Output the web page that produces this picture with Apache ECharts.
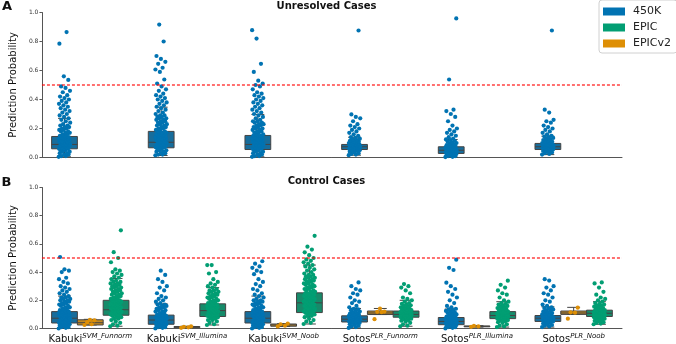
<!DOCTYPE html>
<html>
<head>
<meta charset="utf-8">
<script src="https://cdn.jsdelivr.net/npm/echarts@6/dist/echarts.min.js"></script>
<style>
  html, body { margin: 0; padding: 0; background: #fff; }
  #chart { width: 676px; height: 344px; }
</style>
</head>
<body>
<div id="chart"></div>
<script>
// categories (label + superscript)
const catBase = ['Kabuki', 'Kabuki', 'Kabuki', 'Sotos', 'Sotos', 'Sotos'];
const catSup = ['SVM_Funnorm', 'SVM_Illumina', 'SVM_Noob', 'PLR_Funnorm', 'PLR_Illumina', 'PLR_Noob'];
const yTicks = ['0.0', '0.2', '0.4', '0.6', '0.8', '1.0'];
const threshold = 50; // all values are in percent

// box stats per category: [min, q1, median, q3, max]
const unresolved450kBox = [
  [0.5, 6, 9, 14.5, 27],
  [1.4, 6.7, 10.5, 18, 34.7],
  [0.5, 5.5, 9, 15.2, 29.7],
  [1.6, 5.5, 7.4, 9, 14],
  [0.3, 2.8, 5, 7.4, 12.4],
  [2, 5.5, 7.4, 9.7, 14.7],
];
const control450kBox = [
  [0, 3.9, 7.3, 12, 23],
  [0, 3, 6, 9.5, 17.5],
  [0, 3.9, 7.3, 12, 23],
  [0.4, 4.6, 6.6, 9, 14.2],
  [0, 2.7, 5, 7.8, 13.8],
  [1, 5, 7.3, 9.2, 15.4],
];
const controlEpicv2Box = [
  [2.5, 2.5, 4.1, 6.2, 6.5],
  [0.5, 0.6, 1, 1.4, 1.6],
  [1.4, 1.6, 2.5, 3.2, 3.5],
  [9.9, 9.9, 11, 12.4, 14.2],
  [1, 1.2, 1.5, 1.8, 2],
  [10, 10, 11, 12.4, 15],
];
const controlEpicBox = [
  [1.6, 9.4, 13.3, 20, 35.5],
  [2.5, 8.5, 12.7, 17.5, 29],
  [3.2, 11.3, 18.2, 25.3, 45],
  [1.6, 8, 10, 12.4, 20],
  [1, 7, 9.2, 12, 19],
  [3, 8.5, 10.8, 13, 19],
];

// individual samples (percent)
const unresolved450kPts = [
  [0.5,1,1,2,2,3,3,4,4,5,5,6,6,6,7,7,7,8,8,8,9,9,9,10,10,10,11,11,11,12,12,12,13,13,13,14,14,14,15,15,16,16,17,17,18,18,19,19,20,20,21,21,22,22,23,24,25,26,27,28,29,30,31,32,33,34,35,36,37,38,39,40,41,42,43,45,46,48,49,53.5,56,78.5,86.5],
  [1.5,2,2,3,3,4,4,5,5,6,6,7,7,7,8,8,8,9,9,9,10,10,10,11,11,11,12,12,12,13,13,13,14,14,14,15,15,15,16,16,16,17,17,17,18,18,19,19,20,20,21,21,22,22,23,23,24,24,25,25,26,26,27,27,28,28,29,29,30,31,32,33,34,35,36,37,38,39,40,41,42,43,44,46,47,49,51,53.8,59,60.7,61.9,64.6,66,68,70,80,91.7],
  [0.5,1,1,2,2,3,3,4,4,5,5,6,6,6,7,7,7,8,8,8,9,9,9,10,10,10,11,11,11,12,12,12,13,13,13,14,14,14,15,15,15,16,16,17,17,18,18,19,19,20,20,21,21,22,22,23,23,24,24,25,25,26,27,28,29,30,31,32,33,34,35,36,37,38,39,40,41,42,43,44,45,47,49,50,51,53,59,64.6,82,87.8],
  [1.6,2,2.5,3,3.5,4,4.5,5,5,5.5,5.5,6,6,6,6.5,6.5,6.5,7,7,7,7.5,7.5,7.5,8,8,8,8.5,8.5,8.5,9,9,9,9.5,9.5,10,10,10.5,11,11,11.5,12,12.5,13,13.5,14,15,16,17,18,19,20,21,22,23,25,27,28,29.7,87.6],
  [0.3,0.5,1,1,1.5,1.5,2,2,2.5,2.5,3,3,3,3.5,3.5,3.5,4,4,4,4.5,4.5,4.5,5,5,5,5.5,5.5,5.5,6,6,6,6.5,6.5,7,7,7.5,7.5,8,8,8.5,9,9.5,10,10.5,11,11.5,12,12.5,13,14,15,16,17,18,19,20,22,25,28,30,32,33,53.8,95.9],
  [2,2.5,3,3.5,4,4.5,5,5,5.5,5.5,6,6,6,6.5,6.5,6.5,7,7,7,7.5,7.5,7.5,8,8,8,8.5,8.5,8.5,9,9,9,9.5,9.5,10,10,10.5,11,11,11.5,12,12.5,13,13.5,14,14.5,15,16,17,18,19,20,21,22,24,25,26,31,33,87.6],
];
const control450kPts = [
  [0,0.5,1,1,1.5,2,2,2.5,3,3,3.5,4,4,4,5,5,5,6,6,6,7,7,7,8,8,8,9,9,9,10,10,10,11,11,11,12,12,12,13,13,14,14,15,15,16,16,17,17,18,18,19,19,20,20,21,21,22,22,23,24,25,26,27,28,29,30,32,33,35,36,40,41,42,50.7],
  [0,0.5,1,1,1.5,2,2,2.5,3,3,3.5,3.5,4,4,4,5,5,5,6,6,6,7,7,7,8,8,8,9,9,9,10,10,11,11,12,12,13,13,14,14,15,15,16,16,17,17,18,19,20,21,22,23,25,27,29,30,33,35,38,41],
  [0,0.5,1,1,1.5,2,2,2.5,3,3,3.5,4,4,4,5,5,5,6,6,6,7,7,7,8,8,8,9,9,9,10,10,10,11,11,11,12,12,12,13,13,14,14,15,15,16,16,17,17,18,18,19,19,20,20,21,22,23,24,25,27,28,30,31.5,33,35,38.5,40,41,43,44,46,47.7],
  [0.4,1,1.5,2,2.5,3,3.5,4,4,4.5,4.5,5,5,5,5.5,5.5,5.5,6,6,6,6.5,6.5,6.5,7,7,7,7.5,7.5,7.5,8,8,8,8.5,8.5,9,9,9.5,10,10,10.5,11,11.5,12,12.5,13,13.5,14,15,16,18,19,20,22,24,25,27,28,30,32.7],
  [0,0.5,1,1,1.5,1.5,2,2,2.5,2.5,3,3,3,3.5,3.5,3.5,4,4,4,4.5,4.5,4.5,5,5,5,5.5,5.5,5.5,6,6,6,6.5,6.5,7,7,7.5,7.5,8,8,8.5,9,9.5,10,10.5,11,11.5,12,12.5,13,13.5,14,15,16,18,20,22,24,26,28,30,32.5,41.5,43,48.8],
  [1,1.5,2,2.5,3,3.5,4,4.5,5,5,5.5,5.5,6,6,6,6.5,6.5,6.5,7,7,7,7.5,7.5,7.5,8,8,8,8.5,8.5,8.5,9,9,9.5,9.5,10,10,10.5,11,11.5,12,12.5,13,13.5,14,14.5,15,16,17,19,20,22,24,25,27,29,30,34,35],
];
const controlEpicv2Pts = [
  [2.5, 3, 4.5, 5.8, 6.2],
  [0.5, 0.8, 1.2, 1.5],
  [1.5, 2, 3, 3.5],
  [6.6, 11.6, 11.8, 12, 14.2],
  [1.2, 1.5, 1.8],
  [7, 11.2, 11.5, 14.8],
];
const controlEpicPts = [
  [1.6,2,3,4,5,6,7,7,8,8,9,9,9.5,10,10,10,11,11,11,12,12,12,13,13,13,14,14,14,15,15,15,16,16,16,17,17,17,18,18,18,19,19,19,20,20,20,21,21,22,22,23,23,24,24,25,25,26,26,27,27,28,28,29,29,30,30,31,31,32,32,33,33,34,35,36,37,38,39,40,41,42,47,50,54.1,69.6],
  [2.5,3,4,5,6,6,7,7,8,8,8.5,9,9,9,10,10,10,11,11,11,12,12,12,13,13,13,14,14,14,15,15,15,16,16,16,17,17,17,18,18,19,19,20,20,21,21,22,22,23,23,24,24,25,25,26,26,27,27,28,29,30,31,32,33,35,39,40,45,45],
  [3.2,4,5,6,7,8,9,9,10,10,11,11,11.5,12,12,12,13,13,13,14,14,14,15,15,15,16,16,16,17,17,17,18,18,18,19,19,19,20,20,20,21,21,21,22,22,22,23,23,23,24,24,24,25,25,25,26,26,27,27,28,28,29,29,30,30,31,31,32,32,33,33,34,34,35,35,36,36,37,37,38,38,39,40,41,42,43,44,45,46,47,48,49,50,52,54,56,58,65.7],
  [1.6,2,3,4,5,5.5,6,6.5,7,7,7.5,7.5,8,8,8,8.5,8.5,8.5,9,9,9,9.5,9.5,9.5,10,10,10,10.5,10.5,10.5,11,11,11,11.5,11.5,11.5,12,12,12,12.5,12.5,13,13,13.5,14,14,14.5,15,15.5,16,16.5,17,17.5,18,19,20,21,22,25,27,29,30,31.5],
  [1,1.5,2,3,4,4.5,5,5.5,6,6,6.5,6.5,7,7,7,7.5,7.5,7.5,8,8,8,8.5,8.5,8.5,9,9,9,9.5,9.5,9.5,10,10,10,10.5,10.5,10.5,11,11,11,11.5,11.5,12,12,12.5,13,13.5,14,14.5,15,15.5,16,16.5,17,17.5,18,19,20,22,24,25,27,29,31,33.9],
  [3,3.5,4,4.5,5,5.5,6,6.5,7,7,7.5,7.5,8,8,8,8.5,8.5,8.5,9,9,9,9.5,9.5,9.5,10,10,10,10.5,10.5,10.5,11,11,11,11.5,11.5,11.5,12,12,12,12.5,12.5,13,13,13.5,14,14.5,15,15.5,16,16.5,17,17.5,18,19,20,21,22,24,26,29,32,32.7],
];

const FONT = "'DejaVu Sans', sans-serif";
const HUE_W = 0.8 / 3;   // dodge width of one hue inside a category
const JIT_W = 0.12;      // strip jitter width (category units)
const X_MIN = -0.5, X_MAX = 5.5;
const EDGE = '#444';
const RED = 'rgba(255,0,0,0.75)';

const C450 = '#0173b2', CEPIC = '#029e73', CV2 = '#de8f05';
const C450_BOX = '#176d9c', CEPIC_BOX = '#168b6a', CV2_BOX = '#c38820';

const chart = echarts.init(document.getElementById('chart'), null, { renderer: 'canvas' });

// deterministic spread of the strip points
const jitter = (k) => ((k * 0.6180339887) % 1) - 0.5;

function stripData(groups, shift) {
  const out = [];
  groups.forEach((vals, i) => {
    vals.forEach((v, k) => out.push([i + shift * HUE_W + jitter(k) * JIT_W, v]));
  });
  return out;
}

function boxData(stats) {
  return stats.map((s, i) => [i].concat(s));
}

function boxRenderer(shift, fill) {
  return function (params, api) {
    const x = api.value(0) + shift * HUE_W;
    const w = api.size([HUE_W, 0])[0];
    const lo = api.coord([x, api.value(1)]);
    const q1 = api.coord([x, api.value(2)]);
    const md = api.coord([x, api.value(3)]);
    const q3 = api.coord([x, api.value(4)]);
    const hi = api.coord([x, api.value(5)]);
    const cx = lo[0];
    const half = w / 2;
    const cap = w / 4;
    const line = (x1, y1, x2, y2) => ({
      type: 'line',
      shape: { x1, y1, x2, y2 },
      style: { stroke: EDGE, lineWidth: 1 },
    });
    return {
      type: 'group',
      children: [
        line(cx, q3[1], cx, hi[1]),
        line(cx, q1[1], cx, lo[1]),
        line(cx - cap, hi[1], cx + cap, hi[1]),
        line(cx - cap, lo[1], cx + cap, lo[1]),
        {
          type: 'rect',
          shape: { x: cx - half, y: q3[1], width: w, height: q1[1] - q3[1] },
          style: { fill, stroke: EDGE, lineWidth: 1 },
        },
        line(cx - half, md[1], cx + half, md[1]),
      ],
    };
  };
}

function boxSeries(name, grid, stats, shift, fill, color) {
  return {
    name,
    type: 'custom',
    xAxisIndex: grid * 2 + 1,
    yAxisIndex: grid,
    itemStyle: { color },
    renderItem: boxRenderer(shift, fill),
    encode: { x: 0, y: [1, 2, 3, 4, 5] },
    data: boxData(stats),
    z: 2,
    silent: true,
  };
}

function stripSeries(name, grid, groups, shift, color) {
  return {
    name,
    type: 'scatter',
    xAxisIndex: grid * 2 + 1,
    yAxisIndex: grid,
    symbol: 'circle',
    symbolSize: 4.2,
    itemStyle: { color, opacity: 1 },
    data: stripData(groups, shift),
    z: 3,
    silent: true,
  };
}

// dashed threshold across the full x extent of a panel
function thresholdSeries(grid) {
  return {
    type: 'line',
    xAxisIndex: grid * 2 + 1,
    yAxisIndex: grid,
    data: [[X_MIN, threshold], [X_MAX, threshold]],
    symbol: 'none',
    lineStyle: { color: RED, type: [3, 2], width: 1.5 },
    z: 4,
    silent: true,
  };
}

const grids = [
  { left: 31, right: 54, top: 12.5, height: 145 },
  { left: 31, right: 54, top: 187.5, height: 145 },
];

function catAxis(grid, showLabels) {
  return {
    type: 'category',
    gridIndex: grid,
    data: catBase.map((b, i) => b + '|' + catSup[i]),
    boundaryGap: true,
    axisLine: { onZero: false, lineStyle: { color: '#555', width: 1 } },
    axisTick: { alignWithLabel: true, length: 3, lineStyle: { color: '#777' } },
    axisLabel: {
      show: showLabels,
      margin: 5.5,
      interval: 0,
      verticalAlign: 'top',
      formatter: (v) => {
        const p = v.split('|');
        return '{b|' + p[0] + '}{s|' + p[1] + '}';
      },
      rich: {
        b: { fontFamily: FONT, fontSize: 10, color: '#111', lineHeight: 10, verticalAlign: 'bottom' },
        s: { fontFamily: FONT, fontSize: 7, fontStyle: 'italic', color: '#111', lineHeight: 7, padding: [0, 0, 4, 0], verticalAlign: 'bottom' },
      },
    },
    splitLine: { show: false },
  };
}

function valAxisX(grid) {
  return { type: 'value', gridIndex: grid, min: X_MIN, max: X_MAX, show: false, axisLine: { onZero: false } };
}

function yAxis(grid) {
  return {
    type: 'value',
    gridIndex: grid,
    min: 0,
    max: 100,
    interval: 20,
    name: 'Prediction Probability',
    nameLocation: 'middle',
    nameGap: 14,
    nameTextStyle: { fontFamily: FONT, fontSize: 10, color: '#111' },
    axisLine: { show: true, onZero: false, lineStyle: { color: '#555', width: 1 } },
    axisTick: { show: true, length: 2.5, lineStyle: { color: '#555' } },
    axisLabel: {
      fontFamily: FONT,
      fontSize: 6,
      color: '#333',
      margin: 3.5,
      formatter: (v) => yTicks[Math.round(v / 20)],
    },
    splitLine: { show: false },
  };
}

const textEl = (x, y, text, font) => ({
  type: 'text',
  x,
  y,
  silent: true,
  style: { text, font, fill: '#111', align: 'center', verticalAlign: 'middle' },
});

const option = {
  animation: false,
  backgroundColor: '#fff',
  grid: grids,
  xAxis: [catAxis(0, false), valAxisX(0), catAxis(1, true), valAxisX(1)],
  yAxis: [yAxis(0), yAxis(1)],
  legend: {
    data: ['450K', 'EPIC', 'EPICv2'],
    orient: 'vertical',
    left: 599,
    top: 0,
    icon: 'rect',
    itemWidth: 22,
    itemHeight: 8,
    itemGap: 5,
    padding: [6, 6, 4, 4],
    borderColor: '#d0d0d0',
    borderWidth: 1,
    borderRadius: 3,
    selectedMode: false,
    textStyle: { fontFamily: FONT, fontSize: 11, color: '#222', padding: [0, 0, 0, 3] },
  },
  graphic: [
    textEl(326.5, 6.7, 'Unresolved Cases', "bold 10px 'DejaVu Sans'"),
    textEl(326.5, 181, 'Control Cases', "bold 10px 'DejaVu Sans'"),
    textEl(7, 7, 'A', "bold 13px 'DejaVu Sans'"),
    textEl(6.5, 182.3, 'B', "bold 13px 'DejaVu Sans'"),
  ],
  series: [
    boxSeries('450K', 0, unresolved450kBox, -1, C450_BOX, C450),
    stripSeries('450K', 0, unresolved450kPts, -1, C450),
    thresholdSeries(0),
    boxSeries('450K', 1, control450kBox, -1, C450_BOX, C450),
    boxSeries('EPICv2', 1, controlEpicv2Box, 0, CV2_BOX, CV2),
    boxSeries('EPIC', 1, controlEpicBox, 1, CEPIC_BOX, CEPIC),
    stripSeries('450K', 1, control450kPts, -1, C450),
    stripSeries('EPICv2', 1, controlEpicv2Pts, 0, CV2),
    stripSeries('EPIC', 1, controlEpicPts, 1, CEPIC),
    thresholdSeries(1),
  ],
};

chart.setOption(option);
</script>
</body>
</html>
